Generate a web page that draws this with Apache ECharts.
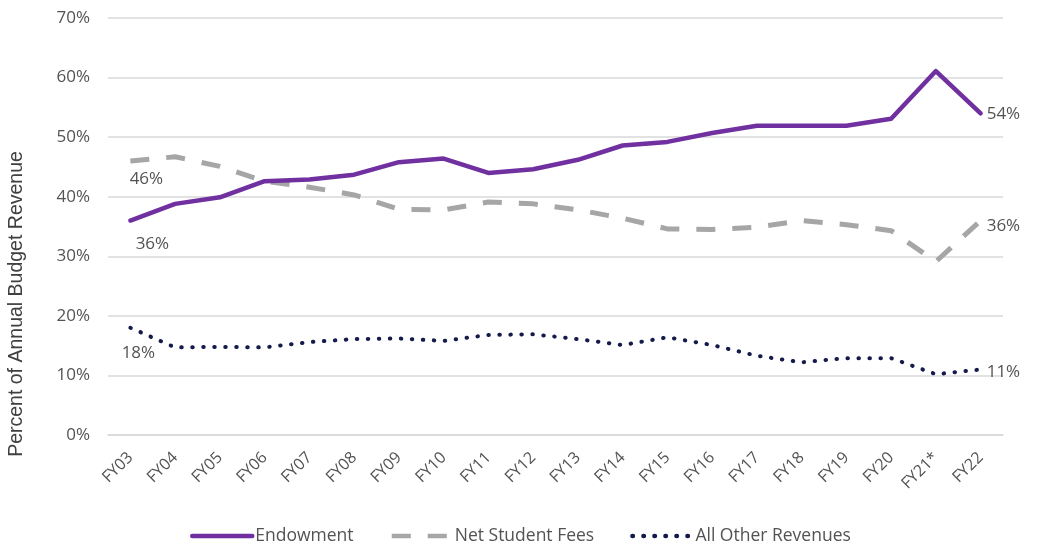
<!DOCTYPE html>
<html>
<head>
<meta charset="utf-8">
<script src="https://cdn.jsdelivr.net/npm/echarts@6/dist/echarts.min.js"></script>
<style>
  html, body { margin: 0; padding: 0; background: #ffffff; }
  #chart { width: 1038px; height: 544px; }
</style>
</head>
<body>
<div id="chart"></div>
<script>
// Fiscal years on the x axis
const years = ['FY03','FY04','FY05','FY06','FY07','FY08','FY09','FY10','FY11','FY12',
               'FY13','FY14','FY15','FY16','FY17','FY18','FY19','FY20','FY21*','FY22'];

// Share of annual budget revenue, in percent
const endowment = [36, 38.8, 39.9, 42.6, 42.9, 43.7, 45.8, 46.4, 44.0, 44.6,
                   46.2, 48.6, 49.2, 50.7, 51.9, 51.9, 51.9, 53.1, 61.1, 54];
const netStudentFees = [46, 46.7, 45.1, 42.6, 41.6, 40.3, 37.9, 37.8, 39.1, 38.8,
                        37.8, 36.4, 34.6, 34.5, 34.9, 36.0, 35.3, 34.3, 29.1, 36];
const allOtherRevenues = [18, 14.7, 14.8, 14.7, 15.6, 16.1, 16.2, 15.8, 16.8, 16.9,
                          16.1, 15.1, 16.4, 15.1, 13.3, 12.2, 12.9, 12.9, 10.2, 11];

const seriesNames = ['Endowment', 'Net Student Fees', 'All Other Revenues'];
const yTicks = [0, 10, 20, 30, 40, 50, 60, 70];
const yTitle = 'Percent of Annual Budget Revenue';

const FONT = '"Open Sans", "Noto Sans", sans-serif';
const TEXT = '#535353';

// Attach value labels to the first and last points of a series
function withEndLabels(values, firstOffset, lastOffset) {
  return values.map((v, i) => {
    if (i === 0) {
      return { value: v, label: { show: true, position: 'bottom', offset: firstOffset } };
    }
    if (i === values.length - 1) {
      return { value: v, label: { show: true, position: 'right', distance: 6, offset: lastOffset } };
    }
    return v;
  });
}

const labelStyle = {
  show: false,
  color: TEXT,
  fontFamily: FONT,
  fontSize: 17,
  formatter: p => Math.round(p.value) + '%'
};

// Line series with an invisible point marker, so that point labels can be drawn
function lineSeries(name, values, color, lineStyle, firstOffset, lastOffset, z) {
  return {
    name: name,
    type: 'line',
    data: withEndLabels(values, firstOffset, lastOffset),
    symbol: 'circle',
    symbolSize: 0.1,
    showSymbol: true,
    z: z,
    lineStyle: Object.assign({ color: color, join: 'round' }, lineStyle),
    itemStyle: { color: color },
    emphasis: { disabled: true },
    label: labelStyle
  };
}

const chart = echarts.init(document.getElementById('chart'), null, { renderer: 'canvas' });

chart.setOption({
  animation: false,
  backgroundColor: '#ffffff',
  grid: { left: 108, right: 35, top: 18, bottom: 109, containLabel: false },
  legend: {
    data: seriesNames,
    left: 185,
    top: 522,
    itemWidth: 60,
    itemHeight: 2,
    itemGap: 36,
    itemStyle: { opacity: 0 },
    lineStyle: { width: 4.5 },
    textStyle: { color: TEXT, fontFamily: FONT, fontSize: 17.5, padding: [0, 0, 0, -2] }
  },
  graphic: [{
    type: 'text',
    x: 17,
    y: 304,
    rotation: Math.PI / 2,
    style: {
      text: yTitle,
      fill: '#404040',
      font: '19.5px "Liberation Sans", Arial, sans-serif',
      align: 'center',
      verticalAlign: 'middle'
    }
  }],
  xAxis: {
    type: 'category',
    data: years,
    boundaryGap: true,
    axisLine: { show: true, lineStyle: { color: '#d9d9d9', width: 1.5 } },
    axisTick: { show: false },
    axisLabel: {
      interval: 0,
      rotate: 45,
      margin: 20,
      color: TEXT,
      fontFamily: FONT,
      fontSize: 16
    }
  },
  yAxis: {
    type: 'value',
    min: yTicks[0],
    max: yTicks[yTicks.length - 1],
    interval: 10,
    axisLine: { show: false },
    axisTick: { show: false },
    axisLabel: {
      color: TEXT,
      fontFamily: FONT,
      fontSize: 17,
      margin: 18,
      formatter: v => v + '%'
    },
    splitLine: { lineStyle: { color: '#d9d9d9', width: 1.5 } }
  },
  series: [
    lineSeries(seriesNames[0], endowment, '#7030A0',
      { width: 4.5, cap: 'round' }, [22, 10], [0, 1], 3),
    lineSeries(seriesNames[1], netStudentFees, '#A6A6A6',
      { width: 5, type: [19, 17], cap: 'butt' }, [16, 5], [0, 6], 2),
    lineSeries(seriesNames[2], allOtherRevenues, '#141a4a',
      { width: 4, type: [0.5, 10.5], cap: 'round' }, [8, 12], [0, 3], 2)
  ]
});
</script>
</body>
</html>
